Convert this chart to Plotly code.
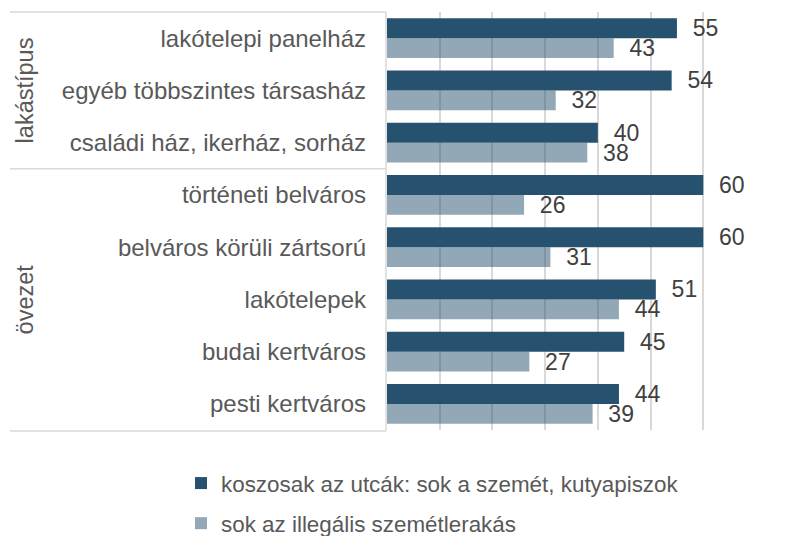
import plotly.graph_objects as go

categories = [
    "lakótelepi panelház",
    "egyéb többszintes társasház",
    "családi ház, ikerház, sorház",
    "történeti belváros",
    "belváros körüli zártsorú",
    "lakótelepek",
    "budai kertváros",
    "pesti kertváros",
]
series_names = [
    "koszosak az utcák: sok a szemét, kutyapiszok",
    "sok az illegális szemétlerakás",
]
dirty_streets = [55, 54, 40, 60, 60, 51, 45, 44]
illegal_dumping = [43, 32, 38, 26, 31, 44, 27, 39]
group_labels = ["lakástípus", "övezet"]
group_sizes = [3, 5]

W, H = 798, 536
L, R, T, B = 387, 42, 12, 106
PW = W - L - R
PH = H - T - B

def px_x(p):
    return (p - L) / PW

def px_y(p):
    return (H - B - p) / PH

FONT = "Liberation Sans, Arial, sans-serif"
NB = "\u00a0\u00a0"

fig = go.Figure()
fig.add_trace(go.Bar(
    y=categories, x=dirty_streets, orientation="h", name=series_names[0],
    marker=dict(color="#27526f", line=dict(width=0)),
    text=[NB + str(v) for v in dirty_streets], textposition="outside",
    textfont=dict(size=23, color="#404040", family=FONT), constraintext="none",
    cliponaxis=False, legendgroup="a",
))
fig.add_trace(go.Bar(
    y=categories, x=illegal_dumping, orientation="h", name=series_names[1],
    marker=dict(color="rgba(39,82,112,0.5)", line=dict(width=0)),
    text=[NB + str(v) for v in illegal_dumping], textposition="outside",
    textfont=dict(size=23, color="#404040", family=FONT), constraintext="none",
    cliponaxis=False, legendgroup="b",
))

line_col = "#d9d9d9"
shapes = [
    dict(type="line", xref="paper", yref="paper", x0=px_x(10), x1=px_x(386), y0=1, y1=1,
         line=dict(color=line_col, width=1.5)),
    dict(type="line", xref="paper", yref="paper", x0=px_x(10), x1=px_x(386), y0=px_y(431), y1=px_y(431),
         line=dict(color=line_col, width=1.5)),
    dict(type="line", xref="paper", yref="paper", x0=px_x(386), x1=px_x(386), y0=px_y(431), y1=1,
         line=dict(color=line_col, width=1.5)),
]
n = len(categories)
cum = 0
annotations = []
for g, size in zip(group_labels, group_sizes):
    top = cum / n
    bottom = (cum + size) / n
    annotations.append(dict(
        xref="paper", yref="paper", x=px_x(25), y=1 - (top + bottom) / 2,
        text=g, textangle=-90, showarrow=False,
        font=dict(size=23.5, color="#595959", family=FONT),
        xanchor="center", yanchor="middle",
    ))
    cum += size
    if cum < n:
        shapes.append(dict(type="line", xref="paper", yref="paper", x0=px_x(10), x1=px_x(386),
                           y0=1 - cum / n, y1=1 - cum / n, line=dict(color=line_col, width=1.5)))

fig.update_layout(
    width=W, height=H,
    margin=dict(l=L, r=R, t=T, b=B, autoexpand=False),
    paper_bgcolor="white", plot_bgcolor="white",
    barmode="group", bargap=0.24, bargroupgap=0,
    font=dict(family=FONT, color="#595959"),
    xaxis=dict(range=[0, 70], dtick=10, showticklabels=False, showgrid=True,
               gridcolor=line_col, gridwidth=1.5, zeroline=False, showline=False, fixedrange=True),
    yaxis=dict(autorange="reversed", showgrid=False, showline=False, ticks="",
               tickfont=dict(size=24, color="#595959", family=FONT), ticklabelstandoff=20),
    legend=dict(orientation="v", x=px_x(181), xanchor="left", y=px_y(462), yanchor="top",
                font=dict(size=22.4, color="#595959", family=FONT), tracegroupgap=8,
                itemwidth=30, bgcolor="rgba(0,0,0,0)"),
    shapes=shapes, annotations=annotations,
)

fig.write_html("out.html")
